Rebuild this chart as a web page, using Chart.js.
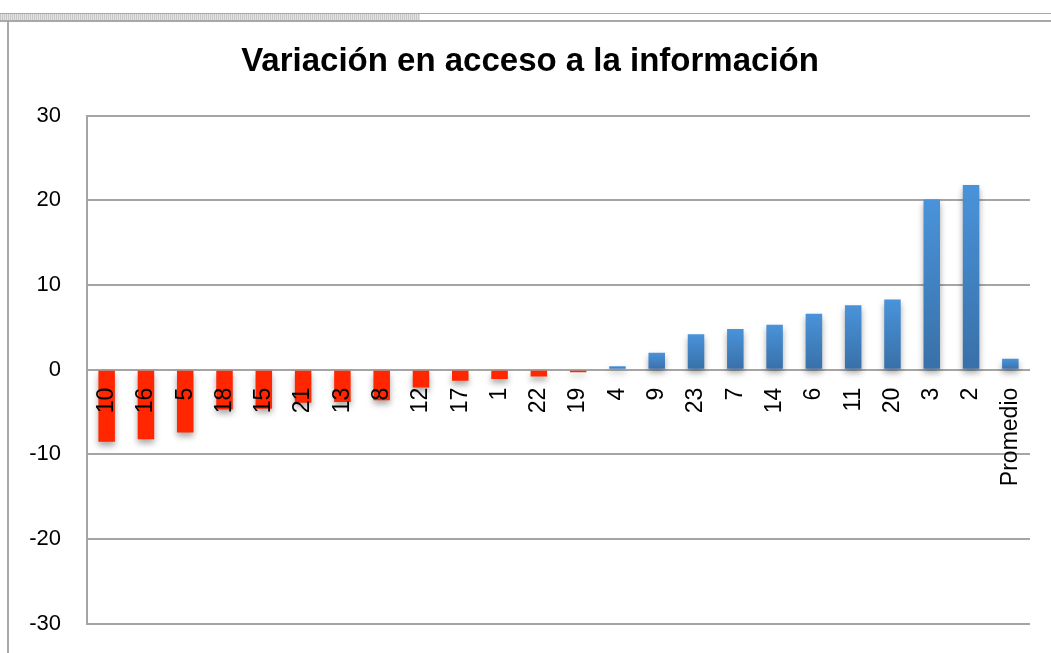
<!DOCTYPE html>
<html>
<head>
<meta charset="utf-8">
<script src="https://cdn.jsdelivr.net/npm/chart.js"></script>
<style>
  html, body { margin: 0; padding: 0; background: #fff; overflow: hidden; }
  #wrap { position: relative; width: 1051px; height: 653px; overflow: hidden; }
  .line { position: absolute; background: #a8a8a8; }
  #hatch {
    position: absolute; left: 0; top: 14px; width: 420px; height: 6px;
    background: repeating-linear-gradient(90deg, #c8c8c8 0 1px, #e4e4e4 1px 2px);
  }
  canvas { position: absolute; left: 0; top: 0; }
</style>
</head>
<body>
<div id="wrap">
  <div class="line" style="left:0;top:13px;width:1051px;height:1px;"></div>
  <div id="hatch"></div>
  <div class="line" style="left:0;top:20px;width:1051px;height:2px;"></div>
  <div class="line" style="left:7px;top:21px;width:2px;height:632px;"></div>
  <canvas id="chart" width="1051" height="663"></canvas>
</div>
<script>
// datos
const categorias = ['10', '16', '5', '18', '15', '21', '13', '8', '12', '17', '1', '22', '19',
  '4', '9', '23', '7', '14', '6', '11', '20', '3', '2', 'Promedio'];
const variacion = [-8.5, -8.2, -7.4, -4.7, -4.6, -3.9, -3.8, -3.6, -2.1, -1.3, -1.1, -0.8, -0.3,
  0.4, 2.0, 4.2, 4.8, 5.3, 6.6, 7.6, 8.3, 20.1, 21.8, 1.3];
const yMin = -30;
const yMax = 30;
const yPaso = 10;

const titulo = 'Variación en acceso a la información';
const rojo = '#ff2600';
const gris = '#a5a5a5';

function colorBarra(c) {
  const v = c.raw;
  if (v < 0) return rojo;
  const chart = c.chart;
  if (!chart.chartArea) return '#4a90d6';
  const y = chart.scales.y;
  const top = y.getPixelForValue(v);
  const base = y.getPixelForValue(0);
  const g = chart.ctx.createLinearGradient(0, top, 0, base);
  g.addColorStop(0, '#4a93da');
  g.addColorStop(1, '#3870a8');
  return g;
}

// sombra bajo las barras
const sombra = {
  id: 'sombra',
  beforeDatasetsDraw(chart) {
    const ctx = chart.ctx;
    ctx.save();
    ctx.shadowColor = 'rgba(0,0,0,0.35)';
    ctx.shadowBlur = 6;
    ctx.shadowOffsetY = 4;
  },
  afterDatasetsDraw(chart) {
    chart.ctx.restore();
  },
};

new Chart(document.getElementById('chart'), {
  type: 'bar',
  data: {
    labels: categorias,
    datasets: [{
      data: variacion,
      backgroundColor: colorBarra,
      categoryPercentage: 1,
      barPercentage: 0.42,
    }],
  },
  plugins: [sombra],
  options: {
    responsive: false,
    animation: false,
    layout: { padding: { left: 30, right: 21, top: 0, bottom: 0 } },
    plugins: {
      legend: { display: false },
      tooltip: { enabled: false },
      title: {
        display: true,
        text: titulo,
        color: '#000',
        font: { family: 'Liberation Sans, Arial, sans-serif', size: 33, weight: 'bold', lineHeight: 1.2 },
        padding: { top: 42, bottom: 34 },
      },
    },
    scales: {
      x: {
        position: { y: 0 },
        grid: { display: false },
        border: { display: false },
        ticks: {
          z: 1,
          color: '#000',
          minRotation: 90,
          maxRotation: 90,
          autoSkip: false,
          padding: 10,
          font: { family: 'Liberation Sans, Arial, sans-serif', size: 23 },
        },
      },
      y: {
        min: yMin,
        max: yMax,
        afterFit(scale) { scale.width = 57; },
        grid: { color: gris, lineWidth: 2, drawTicks: false },
        border: { color: gris, width: 2 },
        ticks: {
          stepSize: yPaso,
          color: '#000',
          padding: 26,
          font: { family: 'Liberation Sans, Arial, sans-serif', size: 22 },
        },
      },
    },
  },
});
</script>
</body>
</html>
